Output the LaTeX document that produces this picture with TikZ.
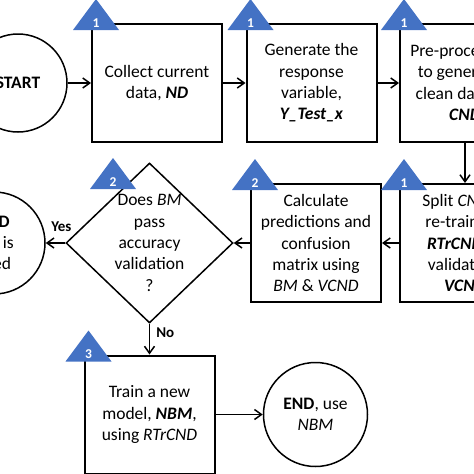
\documentclass[tikz,border=0pt]{standalone}
\usepackage{fontspec}
\setmainfont{Carlito}
\usetikzlibrary{calc}
\usetikzlibrary{arrows.meta}
\usetikzlibrary{shapes.geometric}
\definecolor{tagblue}{HTML}{4472C4}
\newcommand{\flowfont}{\fontsize{17.5}{21.3}\selectfont}
\tikzset{
    stepbox/.style={draw, line width=2pt, minimum width=130pt, minimum height=118pt, inner sep=0pt, align=center, font=\flowfont},
    terminal/.style={draw, circle, line width=1.5pt, minimum size=#1, inner sep=0pt, align=center, font=\flowfont},
    decision/.style={draw, diamond, line width=1.5pt, minimum width=167pt, minimum height=160pt, inner sep=0pt},
    question/.style={align=center, inner sep=0pt, font=\flowfont},
    flow/.style={line width=1.5pt, -{Straight Barb[length=7pt,width=10pt]}},
    answer/.style={inner sep=0pt, font=\fontsize{15}{18}\selectfont\bfseries},
    tagnum/.style={inner sep=0pt, text=white, font=\fontsize{13.5}{16}\selectfont\bfseries}
}

\begin{document}
\begin{tikzpicture}[x=1pt,y=-1pt]
\useasboundingbox (0,0) rectangle (474,474);
% top row
\node[terminal=98pt] (start) at (18,83) {\textbf{START}};
\node[stepbox] (collect) at (157,83) {Collect current\\data, \textbf{\textit{ND}}};
\node[stepbox] (generate) at (311.5,83) {Generate the\\response\\variable,\\\textbf{\textit{Y\_Test\_x}}};
\node[stepbox] (preproc) at (465,83) {Pre-process \textbf{\textit{ND}}\\to generate a\\clean dataset,\\\textbf{\textit{CND}}};
% middle row
\node[stepbox] (split) at (465,243) {Split \textit{CND} to\\re-training,\\\textbf{\textit{RTrCND}}, \&\\validation,\\\textbf{\textit{VCND}}};
\node[stepbox] (calc) at (316,243) {Calculate\\predictions and\\confusion\\matrix using\\\textit{BM} \& \textit{VCND}};
\node[decision] (bmcheck) at (149.5,243) {};
\node[question] (bmtext) at (bmcheck) {Does \textit{BM}\\pass\\accuracy\\validation\\?};
\node[terminal=102pt] (endbm) at (-6,243) {\textbf{END}\\\textit{BM} is\\used};
% bottom row
\node[stepbox] (train) at (149.5,414.5) {Train a new\\model, \textbf{\textit{NBM}},\\using \textit{RTrCND}};
\node[terminal=104pt] (endnbm) at (315.5,414.5) {\textbf{END}, use\\\textit{NBM}};
\coordinate (bmtag) at (108,182);
% step tags
\foreach \corner/\num [count=\i] in {collect.north west/1, generate.north west/1, preproc.north west/1, split.north west/1, calc.north west/2, bmtag/2, train.north west/3}{
\fill[tagblue] ($(\corner)+(-18,7)$) -- ++(46,0) -- ++(-23,-31) -- cycle;
\node[tagnum] (tag\i) at ($(\corner)+(5,0)$) {\num};
}
% connectors
\draw[flow] (start) -- (collect);
\draw[flow] (collect) -- (generate);
\draw[flow] (generate) -- (preproc);
\draw[flow] (preproc) -- (split);
\draw[flow] (split) -- (calc);
\draw[flow] (calc) -- (bmcheck);
\draw[flow] (bmcheck) -- node[answer, pos=0.2, above=11pt] (yeslabel) {Yes} (endbm);
\draw[flow] (bmcheck) -- node[answer, pos=0.3, right=6pt] (nolabel) {No} (train);
\draw[flow] (train) -- (endnbm);
\end{tikzpicture}
\end{document}
